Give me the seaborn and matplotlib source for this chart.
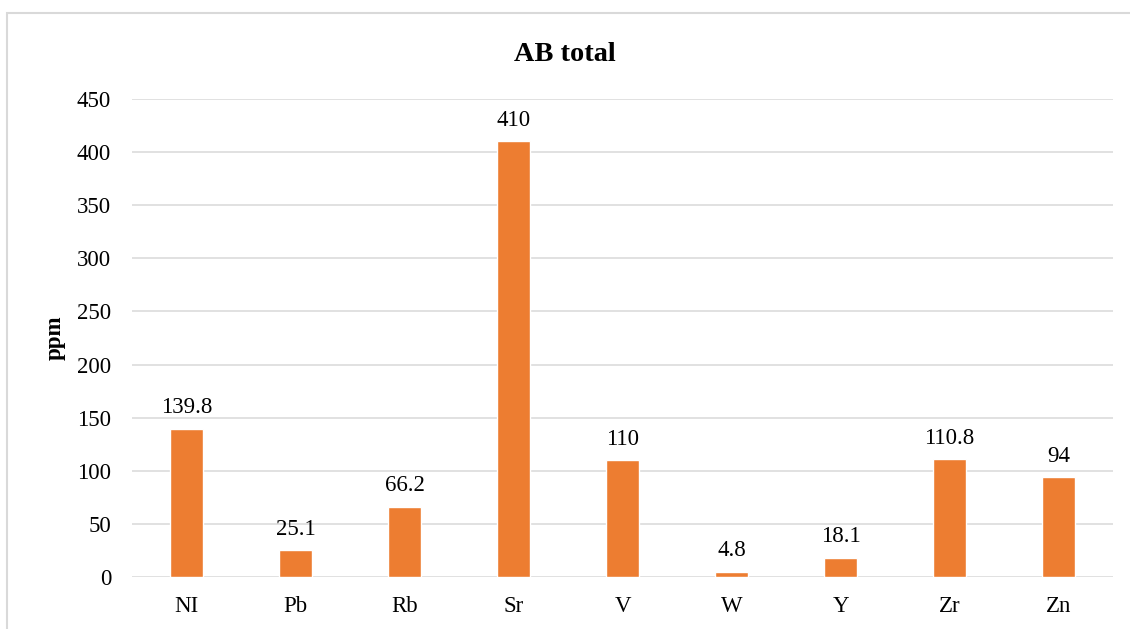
import matplotlib
matplotlib.use("Agg")
import matplotlib.pyplot as plt
import seaborn as sns
import pandas as pd
from matplotlib.patches import Rectangle

elements = ["NI", "Pb", "Rb", "Sr", "V", "W", "Y", "Zr", "Zn"]
ppm = [139.8, 25.1, 66.2, 410, 110, 4.8, 18.1, 110.8, 94]
value_labels = ["139.8", "25.1", "66.2", "410", "110", "4.8", "18.1", "110.8", "94"]
y_ticks = [0, 50, 100, 150, 200, 250, 300, 350, 400, 450]

sns.set_theme(style="white")
plt.rcParams["font.family"] = ["Liberation Serif", "DejaVu Serif"]
plt.rcParams["text.color"] = "black"

df = pd.DataFrame({"element": elements, "ppm": ppm})

fig = plt.figure(figsize=(11.3, 6.29), dpi=100)
fig.patch.set_facecolor("white")

# outer chart frame (runs off the right and bottom edges)
fig.patches.append(Rectangle((7 / 1130, -0.05), 1.2, 1 - 12.5 / 629 + 0.05,
                             transform=fig.transFigure, fill=False,
                             edgecolor="#d9d9d9", linewidth=1.5, zorder=0))

ax = fig.add_axes([132 / 1130, 1 - 577 / 629, (1113 - 132) / 1130, (577 - 99) / 629])

sns.barplot(data=df, x="element", y="ppm", color="#ED7D31", saturation=1,
            width=0.31, ax=ax, zorder=3)

ax.set_ylim(0, 450)
ax.set_yticks(y_ticks)
ax.set_yticklabels([str(t) for t in y_ticks])
ax.yaxis.grid(True, color="#d9d9d9", linewidth=1.1, zorder=0)
ax.set_axisbelow(True)
for s in ax.spines.values():
    s.set_visible(False)
ax.tick_params(axis="both", length=0, labelsize=16.5, colors="black")
ax.tick_params(axis="y", pad=15)
ax.tick_params(axis="x", pad=13.5)
ax.set_xlabel("")
ax.set_ylabel("ppm", fontsize=16.5, fontweight="bold", color="black")
ax.yaxis.set_label_coords((66 - 132) / 981, 0.5)

for patch, lab in zip(ax.patches, value_labels):
    ax.annotate(lab, (patch.get_x() + patch.get_width() / 2, patch.get_height()),
                xytext=(0, 11.2), textcoords="offset points", ha="center", va="baseline",
                fontsize=16.5, color="black")

fig.text(0.5, 1 - 61 / 629, "AB total", ha="center", va="baseline",
         fontsize=20.4, fontweight="bold", color="black")

fig.savefig("out.png", dpi=100)
